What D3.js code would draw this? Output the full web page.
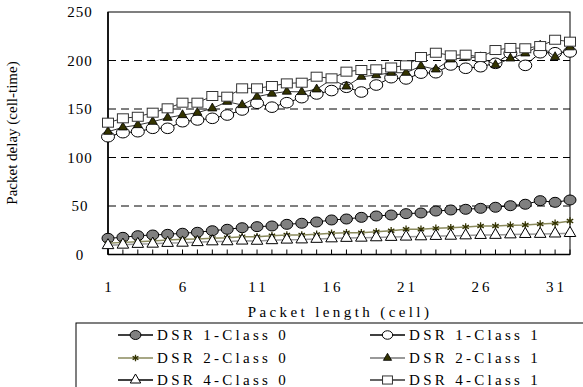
<!DOCTYPE html>
<html><head><meta charset="utf-8">
<script src="https://cdn.jsdelivr.net/npm/d3@7"></script>
<style>body{margin:0;background:#fff}svg{display:block}</style>
</head><body>
<svg id="c" width="583" height="387"></svg>
<script>
const packetLength = d3.range(1, 33);
const xTickLabels = ["1","6","11","16","21","26","31"];
const xTickValues = [1,6,11,16,21,26,31];
const yTicks = [0,50,100,150,200,250];

const dsr1Class0 = [16.7,17.7,19.4,20.1,20.8,21.9,22.9,24.5,26.0,27.6,28.7,29.4,31.1,32.2,33.5,35.6,36.6,38.3,39.7,40.7,42.1,42.8,44.8,45.9,46.6,47.6,48.7,50.3,51.8,55.5,53.8,56.2];
const dsr1Class1 = [121.4,125.6,126.6,130.1,130.1,136.9,138.7,140.4,143.8,149.0,155.9,151.9,156.5,161.7,165.5,169.0,172.4,167.5,174.7,182.3,181.0,187.0,187.4,195.4,192.0,193.6,197.1,207.4,195.0,208.0,208.0,208.8];
const dsr2Class0 = [11.5,12.5,13.2,13.9,14.9,15.6,16.0,16.7,17.3,18.4,18.4,19.4,20.1,20.1,20.8,21.9,22.5,22.5,23.5,24.5,26.0,26.0,27.0,27.6,28.4,29.4,29.4,30.1,30.4,31.4,32.2,34.5];
const dsr2Class1 = [126.6,131.1,133.5,136.9,141.0,143.8,146.2,150.7,157.5,154.1,162.7,165.9,168.0,167.6,170.3,180.6,173.3,183.3,185.0,187.4,187.4,194.3,190.9,201.2,203.0,203.5,195.4,202.2,207.4,215.5,203.6,213.7];
const dsr4Class0 = [9.5,10.0,10.8,11.0,11.8,12.0,12.6,13.4,13.5,14.2,14.0,14.6,15.2,15.4,16.0,16.5,17.0,17.2,17.6,18.0,18.3,18.6,19.0,19.2,19.6,20.0,20.1,20.6,21.0,21.1,21.5,22.0];
const dsr4Class1 = [135.9,140.4,142.0,146.2,150.7,156.5,156.5,163.4,162.7,171.3,171.3,173.7,176.4,177.1,183.3,181.6,188.5,190.2,190.9,192.8,195.0,203.6,208.0,205.3,206.0,203.6,210.8,212.9,212.6,214.9,221.4,219.4];

const seriesNames = ["DSR 1-Class 0","DSR 1-Class 1","DSR 2-Class 0","DSR 2-Class 1","DSR 4-Class 0","DSR 4-Class 1"];
const seriesValues = [dsr1Class0, dsr1Class1, dsr2Class0, dsr2Class1, dsr4Class0, dsr4Class1];

const styles = [
  {line:"#000", lw:1, marker:"ellipseFill", legendLine:"#000"},
  {line:"#000", lw:1, marker:"ellipseOpen", legendLine:"#000"},
  {line:"#8a8a5c", lw:1.5, marker:"star", legendLine:"#8a8a5c"},
  {line:"#333", lw:1, marker:"triFill", legendLine:"#777"},
  {line:"#999", lw:1.5, marker:"triOpen", legendLine:"#000"},
  {line:"#333", lw:1, marker:"square", legendLine:"#333"}
];

const svg = d3.select("#c");
const font = "'Liberation Serif','Times New Roman',serif";
const L = 108, R = 570, T = 12, B = 254.5;
const x = d3.scaleLinear().domain([1, 32]).range([L, R]);
const y = d3.scaleLinear().domain([0, 250]).range([B, T]);

// gridlines
svg.append("g").selectAll("line").data(yTicks.filter(v => v > 0 && v < 250)).join("line")
  .attr("x1", L).attr("x2", R).attr("y1", d => y(d)).attr("y2", d => y(d))
  .attr("stroke", "#000").attr("stroke-width", 1).attr("stroke-dasharray", "8,5");

// frame
svg.append("rect").attr("x", L).attr("y", T).attr("width", R - L).attr("height", B - T)
  .attr("fill", "none").attr("stroke", "#000").attr("stroke-width", 1);
svg.append("line").attr("x1", L).attr("x2", L).attr("y1", T).attr("y2", B).attr("stroke", "#000").attr("stroke-width", 1.6);
svg.append("line").attr("x1", L).attr("x2", R).attr("y1", B).attr("y2", B).attr("stroke", "#000").attr("stroke-width", 1.6);

// x ticks (inside)
svg.append("g").selectAll("line").data(packetLength).join("line")
  .attr("x1", d => x(d)).attr("x2", d => x(d)).attr("y1", B).attr("y2", B - 5)
  .attr("stroke", "#000").attr("stroke-width", 1);

// y tick labels
svg.append("g").selectAll("text").data(yTicks).join("text")
  .attr("x", 80).attr("y", d => y(d) + 5).attr("text-anchor", "middle")
  .attr("font-family", font).attr("font-size", 15).attr("letter-spacing", "1px")
  .text(d => d);

// x tick labels
svg.append("g").selectAll("text").data(xTickValues).join("text")
  .attr("x", (d) => x(d) + 1.5).attr("y", 292).attr("text-anchor", "middle")
  .attr("font-family", font).attr("font-size", 15).attr("letter-spacing", "3px")
  .text((d, i) => xTickLabels[i]);

// axis titles
svg.append("text").attr("x", 340).attr("y", 317).attr("text-anchor", "middle")
  .attr("font-family", font).attr("font-size", 15).attr("letter-spacing", "3.4px")
  .text("Packet length (cell)");
svg.append("text").attr("transform", "translate(17,133) rotate(-90)").attr("text-anchor", "middle")
  .attr("font-family", font).attr("font-size", 15)
  .text("Packet delay (cell-time)");

function drawMarker(g, type, cx, cy, scale) {
  const s = scale || 1;
  if (type === "ellipseFill") {
    g.append("ellipse").attr("cx", cx).attr("cy", cy).attr("rx", 6*s).attr("ry", 5*s)
      .attr("fill", "#808080").attr("stroke", "#000").attr("stroke-width", 1);
  } else if (type === "ellipseOpen") {
    g.append("ellipse").attr("cx", cx).attr("cy", cy).attr("rx", 6.5*s).attr("ry", 5.3*s)
      .attr("fill", "#fff").attr("stroke", "#000").attr("stroke-width", 1);
  } else if (type === "star") {
    g.append("path").attr("d", d3.symbol(d3.symbolAsterisk, 38*s*s)())
      .attr("transform", `translate(${cx},${cy})`).attr("fill", "none")
      .attr("stroke", "#333300").attr("stroke-width", 1.3);
  } else if (type === "triFill") {
    g.append("path").attr("d", d3.symbol(d3.symbolTriangle, 36*s*s)())
      .attr("transform", `translate(${cx},${cy})`).attr("fill", "#333300")
      .attr("stroke", "#000").attr("stroke-width", 0.8);
  } else if (type === "triOpen") {
    g.append("path").attr("d", d3.symbol(d3.symbolTriangle, 58*s*s)())
      .attr("transform", `translate(${cx},${cy})`).attr("fill", "#fff")
      .attr("stroke", "#000").attr("stroke-width", 1);
  } else if (type === "square") {
    g.append("rect").attr("x", cx - 5.5*s).attr("y", cy - 4.5*s).attr("width", 11*s).attr("height", 9*s)
      .attr("fill", "#fff").attr("stroke", "#333").attr("stroke-width", 1);
  }
}

const line = d3.line().x((d, i) => x(packetLength[i])).y(d => y(d));
seriesValues.forEach((vals, si) => {
  const g = svg.append("g");
  g.append("path").attr("d", line(vals)).attr("fill", "none")
    .attr("stroke", styles[si].line).attr("stroke-width", styles[si].lw);
  vals.forEach((v, i) => drawMarker(g, styles[si].marker, x(packetLength[i]), y(v)));
});

// legend
const lg = svg.append("g");
lg.append("rect").attr("x", 76).attr("y", 323).attr("width", 520).attr("height", 80)
  .attr("fill", "#fff").attr("stroke", "#000").attr("stroke-width", 1);
const rowY = [335, 358, 380];
const colX = [118, 370];
seriesNames.forEach((name, si) => {
  const col = si % 2, row = Math.floor(si / 2);
  const x0 = colX[col], yy = rowY[row];
  lg.append("line").attr("x1", x0).attr("x2", x0 + 35).attr("y1", yy).attr("y2", yy)
    .attr("stroke", styles[si].legendLine).attr("stroke-width", 1.5);
  drawMarker(lg, styles[si].marker, x0 + 17.5, yy, si === 1 ? 0.8 : 0.9);
  lg.append("text").attr("x", x0 + 39).attr("y", yy + 5).attr("font-family", font)
    .attr("font-size", 15).attr("letter-spacing", "3.3px").text(name);
});
</script>
</body></html>
